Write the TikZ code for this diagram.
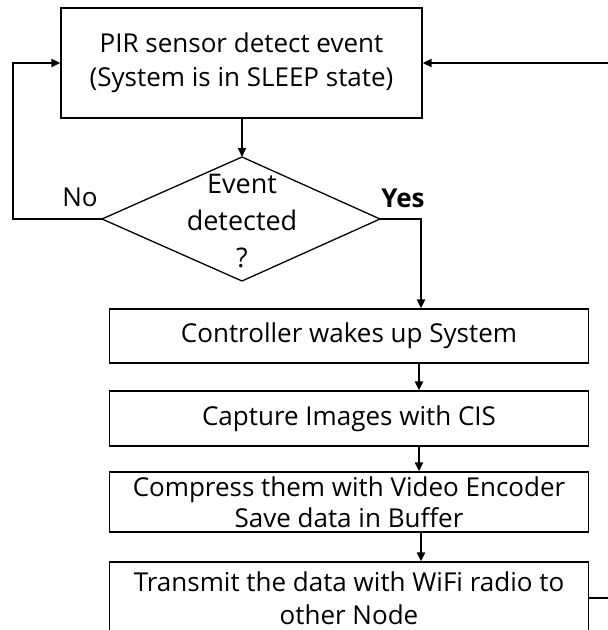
\documentclass[tikz,border=0pt]{standalone}
\usepackage{fontspec}
\setmainfont{Open Sans}
\usetikzlibrary{arrows.meta}
\begin{document}
\begin{tikzpicture}[x=1pt,y=-1pt,
  box/.style={draw, line width=1.3pt, rectangle, inner sep=0pt, align=center, minimum width=479pt},
  conn/.style={line width=2pt, -{Triangle[length=9pt,width=8pt]}},
  lbl/.style={font=\fontsize{26}{30}\selectfont, inner sep=0pt}]
\path[use as bounding box] (0,0) rectangle (608,630);
\clip (0,0) rectangle (608,630);
% process boxes
\node[box, minimum width=361pt, minimum height=110pt, font=\fontsize{26}{34}\selectfont] (pir) at (241.5,63)
  {PIR sensor detect event\\(System is in SLEEP state)};
\node[box, minimum height=54pt, font=\fontsize{26}{31}\selectfont] (ctl) at (349,336) {Controller wakes up System};
\node[box, minimum height=55pt, font=\fontsize{26}{31}\selectfont] (cap) at (349,418.5) {Capture Images with CIS};
\node[box, minimum height=60pt, font=\fontsize{26}{31}\selectfont] (cmp) at (349,502) {Compress them with Video Encoder\\Save data in Buffer};
\node[box, minimum height=72pt, font=\fontsize{26}{33}\selectfont] (tx) at (349,598) {Transmit the data with WiFi radio to\\other Node};
% decision diamond
\coordinate (dT) at (242,157);
\coordinate (dR) at (380,219);
\coordinate (dB) at (242,281);
\coordinate (dL) at (102,219);
\draw[line width=1.3pt] (dT) -- (dR) -- (dB) -- (dL) -- cycle;
\node[align=center, inner sep=0pt, font=\fontsize{27}{37}\selectfont] (dec) at (242,221) {Event\\detected\\?};
\node[lbl] (no) at (80,197) {No};
\node[lbl, font=\fontsize{26}{30}\selectfont\bfseries] (yes) at (403,198) {Yes};
% connectors
\coordinate (lc) at (13,219);
\coordinate (yc) at (421,219);
\coordinate (ac) at (419,219);
\coordinate (rc) at (640,598);
\draw[conn] (pir.south -| dT) -- (dT);
\draw[conn] (dL) -- (lc) |- (pir.west);
\draw[conn] (dR) -- (yc) -- (yc |- ctl.north);
\draw[conn] (ctl.south -| ac) -- (cap.north -| ac);
\draw[conn] (cap.south -| ac) -- (cmp.north -| ac);
\draw[conn] (cmp.south -| yc) -- (tx.north -| yc);
\draw[conn] (tx.east) -- (rc) |- (pir.east);
\end{tikzpicture}
\end{document}
